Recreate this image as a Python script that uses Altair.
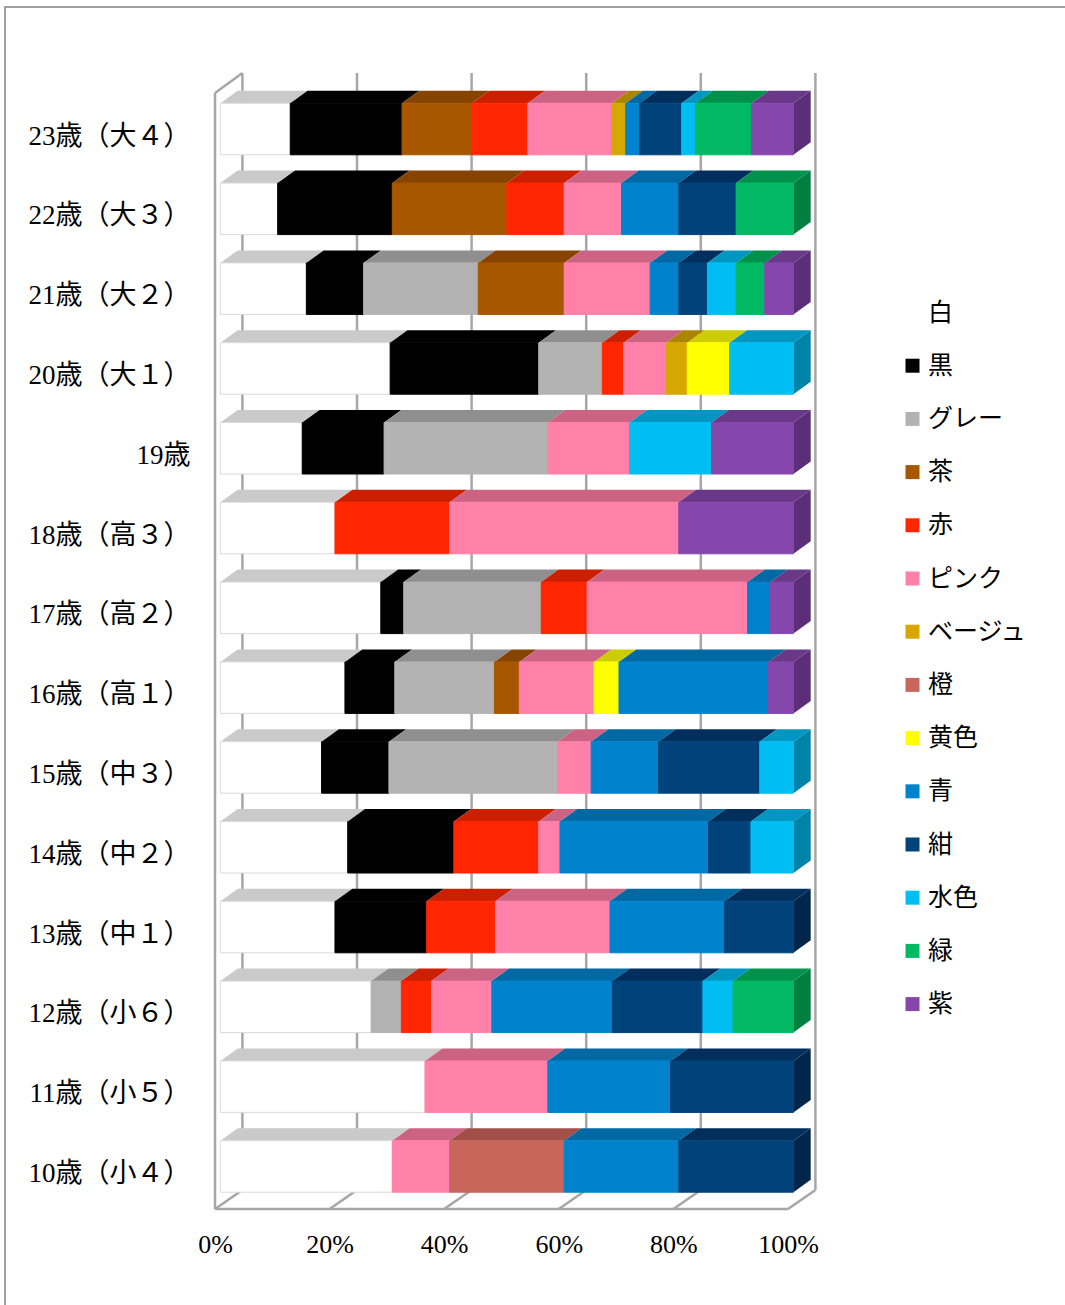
import altair as alt
import pandas as pd

# ---------------- data ----------------
ages = ['23歳（大４）', '22歳（大３）', '21歳（大２）', '20歳（大１）', '19歳',
        '18歳（高３）', '17歳（高２）', '16歳（高１）', '15歳（中３）', '14歳（中２）',
        '13歳（中１）', '12歳（小６）', '11歳（小５）', '10歳（小４）']

series = ['白', '黒', 'グレー', '茶', '赤', 'ピンク', 'ベージュ', '橙', '黄色',
          '青', '紺', '水色', '緑', '紫']

# counts per series, one value per age (top to bottom)
white  = [5, 1, 3, 8, 1, 1, 7, 5, 3, 6, 5, 5, 5, 3]
black  = [8, 2, 2, 7, 1, 0, 1, 2, 2, 5, 4, 0, 0, 0]
gray   = [0, 0, 4, 3, 2, 0, 6, 4, 5, 0, 0, 1, 0, 0]
brown  = [5, 2, 3, 0, 0, 0, 0, 1, 0, 0, 0, 0, 0, 0]
red    = [4, 1, 0, 1, 0, 1, 2, 0, 0, 4, 3, 1, 0, 0]
pink   = [6, 1, 3, 2, 1, 2, 7, 3, 1, 1, 5, 2, 3, 1]
beige  = [1, 0, 0, 1, 0, 0, 0, 0, 0, 0, 0, 0, 0, 0]
orange = [0, 0, 0, 0, 0, 0, 0, 0, 0, 0, 0, 0, 0, 2]
yellow = [0, 0, 0, 2, 0, 0, 0, 1, 0, 0, 0, 0, 0, 0]
blue   = [1, 1, 1, 0, 0, 0, 1, 6, 2, 7, 5, 4, 3, 2]
navy   = [3, 1, 1, 0, 0, 0, 0, 0, 3, 2, 3, 3, 3, 2]
cyan   = [1, 0, 1, 3, 1, 0, 0, 0, 1, 2, 0, 1, 0, 0]
green  = [4, 1, 1, 0, 0, 0, 0, 0, 0, 0, 0, 2, 0, 0]
purple = [3, 0, 1, 0, 1, 1, 1, 1, 0, 0, 0, 0, 0, 0]

values = [white, black, gray, brown, red, pink, beige, orange, yellow,
          blue, navy, cyan, green, purple]

front_colors = ['#FFFFFF', '#000000', '#B3B3B3', '#A65700', '#FF2600', '#FF80A8',
                '#D6A700', '#C9665B', '#FFFF00', '#0083CC', '#00437A', '#00BEF2',
                '#00B962', '#8547AB']
top_colors = ['#CACACA', '#000000', '#8F8F8F', '#874400', '#CC1F00', '#CC6385',
              '#AB8500', '#A14F48', '#CCCC00', '#0068A3', '#002F5E', '#0096C2',
              '#00914D', '#693889']
side_colors = ['#B0B0B0', '#000000', '#7F7F7F', '#733A00', '#B31A00', '#B35776',
               '#967500', '#8C453F', '#B3B300', '#005A8F', '#002649', '#0083A8',
               '#007F40', '#5C2E78']
edge_colors = ['#DADADA'] + front_colors[1:]

ticks = [0, 20, 40, 60, 80, 100]

rows = []
for k, (name, vals) in enumerate(zip(series, values)):
    for r, (age, v) in enumerate(zip(ages, vals)):
        if v > 0:
            rows.append({'age': age, 'r': r, 'name': name, 'k': k, 'n': v})
df = pd.DataFrame(rows)
palette = pd.DataFrame({'name': series, 'top': top_colors,
                        'side': side_colors, 'edge': edge_colors})

# ---------------- geometry (pixels -> scale units) ----------------
W, HGT = 600, 1137
PX_PER_PCT = 5.73
ROW = 79.8
TOP_PX = 72
U0 = (129.05 - TOP_PX) / ROW


def u(px):
    return (px - TOP_PX) / ROW - U0


YDOM = [u(TOP_PX), u(TOP_PX + HGT)]
XDOM = [0, W / PX_PER_PCT]
HALF = 25.75 / ROW          # half height of bar front face
DDY = 12.5 / ROW            # bar depth (vertical)
DDX = 17.3 / PX_PER_PCT     # bar depth (horizontal)
FDX = 5.4 / PX_PER_PCT      # bar front plane offset
BDX = 27.4 / PX_PER_PCT     # back wall offset
Y_BACK_TOP = u(73)
Y_FRONT_TOP = u(93)
Y_FLOOR_FRONT = u(1209)
Y_FLOOR_BACK = u(1190)

GRID = '#A6A6A6'
FONT = "'Liberation Serif', 'Noto Sans CJK JP', serif"

xs = alt.Scale(domain=XDOM, nice=False, zero=False)
ys = alt.Scale(domain=YDOM, nice=False, zero=False, reverse=True)

label_expr = '[' + ','.join("'" + a + "'" for a in ages) + '][datum.value]'

# ---------------- frame ----------------
border = alt.Chart(pd.DataFrame({'a': [0]})).mark_rect(
    fillOpacity=0, stroke='#A0A0A0', strokeWidth=2
).encode(x=alt.value(-210), x2=alt.value(900), y=alt.value(-65), y2=alt.value(1300))

tick_df = pd.DataFrame({'v': ticks})
grid = alt.Chart(tick_df).transform_calculate(
    xb=f'datum.v + {BDX}', yt=f'{Y_BACK_TOP}', yb=f'{Y_FLOOR_BACK}'
).mark_rule(color=GRID, strokeWidth=2.5).encode(
    x=alt.X('xb:Q', scale=xs,
            axis=alt.Axis(values=ticks, labelExpr="datum.value + '%'", grid=False,
                          ticks=False, domain=False, labelFont=FONT, labelFontSize=26,
                          labelColor='#000000', labelPadding=22, labelOffset=0,
                          labelFlush=False, labelOverlap=False, title=None)),
    y=alt.Y('yt:Q', scale=ys,
            axis=alt.Axis(values=list(range(len(ages))), labelExpr=label_expr,
                          grid=False, ticks=False, domain=False, labelFont=FONT,
                          labelFontSize=27, labelColor='#000000', labelPadding=25,
                          labelOffset=7, labelLimit=300, labelOverlap=False,
                          title=None)),
    y2='yb:Q'
)

floor = alt.Chart(tick_df).transform_calculate(
    x2b=f'datum.v + {BDX}', yf=f'{Y_FLOOR_FRONT}', yb=f'{Y_FLOOR_BACK}'
).mark_rule(color=GRID, strokeWidth=2.5).encode(
    x=alt.X('v:Q', scale=xs), x2='x2b:Q', y=alt.Y('yf:Q', scale=ys), y2='yb:Q'
)

edges_df = pd.DataFrame({
    'x0': [0, 0, 0], 'x1': [0, BDX, 100],
    'y0': [Y_FRONT_TOP, Y_FRONT_TOP, Y_FLOOR_FRONT],
    'y1': [Y_FLOOR_FRONT, Y_BACK_TOP, Y_FLOOR_FRONT],
})
edges = alt.Chart(edges_df).mark_rule(color=GRID, strokeWidth=2.5).encode(
    x=alt.X('x0:Q', scale=xs), x2='x1:Q', y=alt.Y('y0:Q', scale=ys), y2='y1:Q'
)

# ---------------- bars ----------------
base = alt.Chart(df).transform_stack(
    stack='n', groupby=['age'], as_=['s0', 's1'], offset='normalize',
    sort=[alt.SortField('k', order='ascending')]
).transform_lookup(
    lookup='name', from_=alt.LookupData(palette, 'name', ['top', 'side', 'edge'])
)

corners = base.transform_calculate(c='[0, 1]').transform_flatten(['c'])

side = corners.transform_filter('datum.s1 > 0.999').transform_calculate(
    xx=f'100 + {FDX} + datum.c * {DDX}',
    ya=f'datum.r - {HALF} - datum.c * {DDY}',
    yb=f'datum.r + {HALF} - datum.c * {DDY}',
).mark_area(orient='vertical').encode(
    x=alt.X('xx:Q', scale=xs, stack=None),
    y=alt.Y('ya:Q', scale=ys, stack=None), y2='yb:Q',
    fill=alt.Fill('side:N', scale=None),
    detail='age:N'
)

top = corners.transform_calculate(
    yy=f'datum.r - {HALF} - datum.c * {DDY}',
    xa=f'datum.s0 * 100 + {FDX} + datum.c * {DDX}',
    xb=f'datum.s1 * 100 + {FDX} + datum.c * {DDX}',
).mark_area(orient='horizontal').encode(
    y=alt.Y('yy:Q', scale=ys, stack=None),
    x=alt.X('xa:Q', scale=xs, stack=None), x2='xb:Q',
    fill=alt.Fill('top:N', scale=None),
    detail=['age:N', 'name:N']
)

front = base.transform_calculate(
    x0=f'datum.s0 * 100 + {FDX}', x1=f'datum.s1 * 100 + {FDX}',
    yt=f'datum.r - {HALF}', yb=f'datum.r + {HALF}'
).mark_rect(strokeWidth=1).encode(
    x=alt.X('x0:Q', scale=xs), x2='x1:Q',
    y=alt.Y('yt:Q', scale=ys), y2='yb:Q',
    color=alt.Color('name:N', scale=alt.Scale(domain=series, range=front_colors),
                    legend=alt.Legend(title=None, orient='none', legendX=685,
                                      legendY=228, symbolType='square',
                                      symbolSize=196, symbolStrokeWidth=0,
                                      labelFont=FONT, labelFontSize=25,
                                      labelColor='#000000', rowPadding=27.2,
                                      labelOffset=3, labelLimit=300)),
    stroke=alt.Stroke('edge:N', scale=None)
)

chart = alt.layer(border, grid, floor, edges, side, top, front).properties(
    width=W, height=HGT,
    autosize=alt.AutoSizeParams(type='none'),
    padding={'left': 215, 'top': 72, 'right': 250, 'bottom': 96},
    background='#FFFFFF'
).configure_view(stroke=None)

chart.save('out.html', embed_options={'renderer': 'svg', 'actions': False})
